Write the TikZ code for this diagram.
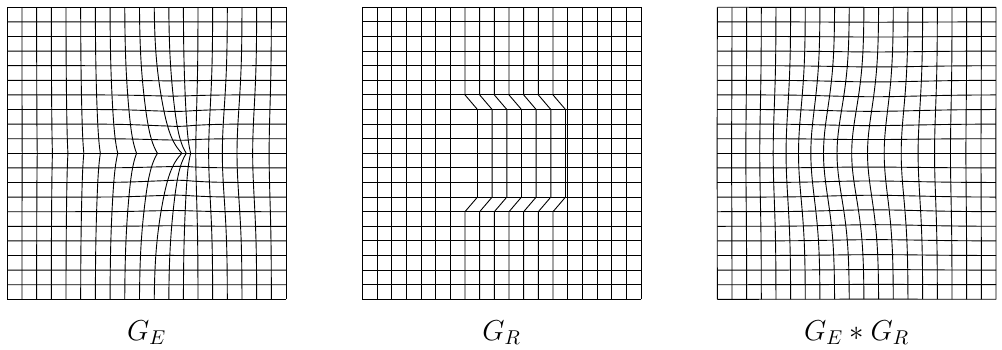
\documentclass[tikz,border=0pt]{standalone}
\usetikzlibrary{calc}

\begin{document}
\begin{tikzpicture}[x=0.5pt,y=0.5pt,font=\Large,
  gridline/.style={line width=0.45pt,black},
  declare function={
    dL(\p)=(\p<10) ? 1.9*(exp((\p-10)/2.47)-0.0174) : max(1.9-0.7*(\p-10),0);
    dR(\p)=(\p>12) ? 0.35*sin(180*(\p-12)/7) : 0;
    uE(\p,\q)=dL(\p)*(0.55*exp(-abs(\q-10)/1.2)+0.45*exp(-((\q-10)/5)^2))-dR(\p)*exp(-((\q-10)/4.5)^2);
    vE(\p,\q)=(10-\q)*0.12*exp(-((\p-11)/2.5)^2-((\q-10)/3)^2);
    uC(\p,\q)=-0.85*exp(-((\p-9.5)/4.5)^2-((\q-10)/4.5)^2);
    vC(\p,\q)=(10-\q)*0.06*exp(-((\p-11)/4)^2-((\q-10)/5)^2);
  }]
  \useasboundingbox (0,0) rectangle (1002,349);

  % G_E : elastic part
  \begin{scope}[shift={(7.3,49.7)},xscale=14.67,yscale=14.6]
    \foreach \i in {0,...,19}
      \draw[gridline] plot[domain=0:20,samples=81,variable=\t] ({\i+uE(\i,\t)},{\t+vE(\i,\t)});
    \foreach \j in {0,...,20}
      \draw[gridline] plot[domain=0:19,samples=77,variable=\s] ({\s+uE(\s,\j)},{\j+vE(\s,\j)});
  \end{scope}

  % G_R : rigid shift of a block
  \begin{scope}[shift={(362.3,49.7)},xscale=14.67,yscale=14.6]
    \foreach \i in {0,...,6,14,15,...,19}
      \draw[gridline] (\i,0) -- (\i,20);
    \foreach \i in {7,...,13}
      \draw[gridline] (\i,0) -- (\i,6) -- ({\i+0.85},7) -- ({\i+0.85},13) -- (\i,14) -- (\i,20);
    \foreach \j in {0,...,20}
      \draw[gridline] (0,\j) -- (19,\j);
  \end{scope}

  % G_E * G_R : composition
  \begin{scope}[shift={(717.3,49.7)},xscale=14.67,yscale=14.6]
    \foreach \i in {0,...,19}
      \draw[gridline] plot[domain=0:20,samples=41,variable=\t] ({\i+uC(\i,\t)},{\t+vC(\i,\t)});
    \foreach \j in {0,...,20}
      \draw[gridline] plot[domain=0:19,samples=39,variable=\s] ({\s+uC(\s,\j)},{\j+vC(\s,\j)});
  \end{scope}

  \node[anchor=base] (lblE)  at (146.7,9) {$G_E$};
  \node[anchor=base] (lblR)  at (501.7,9) {$G_R$};
  \node[anchor=base] (lblER) at (856.7,9) {$G_E*G_R$};
\end{tikzpicture}
\end{document}
